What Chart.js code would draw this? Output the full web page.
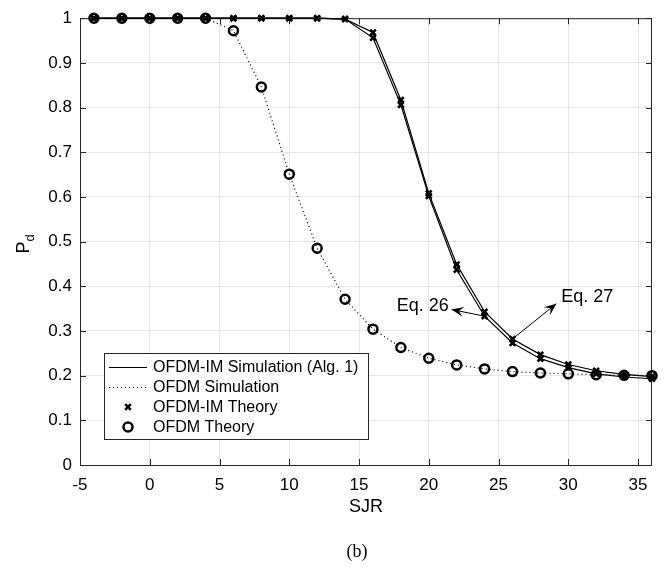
<!DOCTYPE html>
<html>
<head>
<meta charset="utf-8">
<script src="https://cdn.jsdelivr.net/npm/chart.js@4/dist/chart.umd.min.js"></script>
<style>
  html, body { margin: 0; padding: 0; background: #fff; }
  canvas { display: block; }
</style>
</head>
<body>
<canvas id="c" width="666" height="570"></canvas>
<script>
// SJR values (x axis)
var sjr = [-4, -2, 0, 2, 4, 6, 8, 10, 12, 14, 16, 18, 20, 22, 24, 26, 28, 30, 32, 34, 36];

// OFDM (simulation and theory overlap)
var ofdmPd = [1, 1, 1, 1, 1, 0.972, 0.846, 0.651, 0.485, 0.371, 0.304, 0.263, 0.239, 0.224, 0.215, 0.209, 0.206, 0.204, 0.202, 0.201, 0.200];

// OFDM-IM, two closely spaced curves (Eq. 27 upper, Eq. 26 lower)
var imEq27 = [1, 1, 1, 1, 1, 1, 1, 1, 1, 0.998, 0.968, 0.817, 0.608, 0.449, 0.343, 0.282, 0.247, 0.225, 0.211, 0.203, 0.198];
var imEq26 = [1, 1, 1, 1, 1, 1, 1, 1, 1, 0.998, 0.956, 0.806, 0.602, 0.437, 0.333, 0.273, 0.238, 0.218, 0.204, 0.197, 0.193];

var xTicks = [-5, 0, 5, 10, 15, 20, 25, 30, 35];
var xTickLabels = ['-5', '0', '5', '10', '15', '20', '25', '30', '35'];
var yTicks = [0, 0.1, 0.2, 0.3, 0.4, 0.5, 0.6, 0.7, 0.8, 0.9, 1];
var yTickLabels = ['0', '0.1', '0.2', '0.3', '0.4', '0.5', '0.6', '0.7', '0.8', '0.9', '1'];

var legendLabels = ['OFDM-IM Simulation (Alg. 1)', 'OFDM Simulation', 'OFDM-IM Theory', 'OFDM Theory'];
var eqLabels = ['Eq. 26', 'Eq. 27'];

function pts(ys) {
  return sjr.map(function (x, i) { return { x: x, y: ys[i] }; });
}

var FONT = '"Liberation Sans", Arial, sans-serif';
var INK = '#000';
var AXIS = '#262626';

var datasets = [
  { label: legendLabels[0], data: pts(imEq27), borderColor: INK, borderWidth: 1.2, pointRadius: 0, showLine: true, clip: false },
  { label: legendLabels[1], data: pts(ofdmPd), borderColor: INK, borderWidth: 1.2, borderDash: [1, 3], pointRadius: 0, showLine: true, clip: false },
  { label: legendLabels[2], data: pts(imEq27), showLine: false, pointStyle: 'crossRot', pointRadius: 4, borderWidth: 2.6, borderColor: INK, clip: false },
  { label: legendLabels[3], data: pts(ofdmPd), showLine: false, pointStyle: 'circle', pointRadius: 4.5, borderWidth: 2.5, borderColor: INK, backgroundColor: 'rgba(0,0,0,0)', clip: false },
  // second OFDM-IM curve (not in legend)
  { label: '', data: pts(imEq26), borderColor: INK, borderWidth: 1.2, showLine: true, pointStyle: 'crossRot', pointRadius: 4, pointBorderWidth: 2.6, clip: false }
];

var decor = {
  id: 'decor',
  beforeDatasetsDraw: function (chart) {
    var ctx = chart.ctx, a = chart.chartArea;
    var xs = chart.scales.x, ys = chart.scales.y;
    ctx.save();
    ctx.strokeStyle = AXIS;
    ctx.lineWidth = 1;
    ctx.strokeRect(a.left + 0.5, a.top + 0.5, a.right - a.left - 1, a.bottom - a.top);
    // inward ticks on all sides
    xTicks.forEach(function (v) {
      var px = Math.round(xs.getPixelForValue(v)) + 0.5;
      ctx.beginPath();
      ctx.moveTo(px, a.bottom); ctx.lineTo(px, a.bottom - 6);
      ctx.moveTo(px, a.top); ctx.lineTo(px, a.top + 6);
      ctx.stroke();
    });
    yTicks.forEach(function (v) {
      var py = Math.round(ys.getPixelForValue(v)) + 0.5;
      ctx.beginPath();
      ctx.moveTo(a.left, py); ctx.lineTo(a.left + 6, py);
      ctx.moveTo(a.right, py); ctx.lineTo(a.right - 6, py);
      ctx.stroke();
    });
    ctx.restore();
  },
  afterDatasetsDraw: function (chart) {
    var ctx = chart.ctx, a = chart.chartArea;
    var xs = chart.scales.x, ys = chart.scales.y;
    ctx.save();

    // arrows with equation labels
    function arrow(x0, y0, x1, y1) {
      var p0 = [xs.getPixelForValue(x0), ys.getPixelForValue(y0)];
      var p1 = [xs.getPixelForValue(x1), ys.getPixelForValue(y1)];
      var ang = Math.atan2(p1[1] - p0[1], p1[0] - p0[0]);
      ctx.strokeStyle = INK; ctx.fillStyle = INK; ctx.lineWidth = 1;
      ctx.beginPath(); ctx.moveTo(p0[0], p0[1]); ctx.lineTo(p1[0], p1[1]); ctx.stroke();
      var L = 12, W = 5;
      ctx.beginPath();
      ctx.moveTo(p1[0], p1[1]);
      ctx.lineTo(p1[0] - L * Math.cos(ang) + W * Math.sin(ang), p1[1] - L * Math.sin(ang) - W * Math.cos(ang));
      ctx.lineTo(p1[0] - 0.6 * L * Math.cos(ang), p1[1] - 0.6 * L * Math.sin(ang));
      ctx.lineTo(p1[0] - L * Math.cos(ang) - W * Math.sin(ang), p1[1] - L * Math.sin(ang) + W * Math.cos(ang));
      ctx.closePath(); ctx.fill();
    }
    arrow(24, 0.333, 21.64, 0.348);
    arrow(26, 0.282, 29.14, 0.361);
    ctx.font = '18px ' + FONT;
    ctx.fillStyle = INK;
    ctx.textBaseline = 'middle';
    ctx.textAlign = 'right';
    ctx.fillText(eqLabels[0], xs.getPixelForValue(21.43), ys.getPixelForValue(0.355));
    ctx.textAlign = 'left';
    ctx.fillText(eqLabels[1], xs.getPixelForValue(29.5), ys.getPixelForValue(0.375));

    // legend box
    var bx = 104, by = 353, bw = 264, bh = 86;
    ctx.fillStyle = '#fff';
    ctx.fillRect(bx, by, bw, bh);
    ctx.strokeStyle = AXIS; ctx.lineWidth = 1;
    ctx.strokeRect(bx + 0.5, by + 0.5, bw, bh);
    ctx.font = '16px ' + FONT;
    ctx.textAlign = 'left'; ctx.textBaseline = 'middle';
    for (var i = 0; i < 4; i++) {
      var ry = by + 14 + i * 20;
      var ds = chart.data.datasets[i];
      ctx.strokeStyle = INK;
      if (i < 2) {
        ctx.lineWidth = 1.2;
        ctx.setLineDash(ds.borderDash || []);
        ctx.beginPath(); ctx.moveTo(bx + 5, ry + 0.5); ctx.lineTo(bx + 43, ry + 0.5); ctx.stroke();
        ctx.setLineDash([]);
      } else {
        ctx.lineWidth = ds.borderWidth;
        ctx.fillStyle = 'rgba(0,0,0,0)';
        Chart.helpers.drawPoint(ctx, { pointStyle: ds.pointStyle, radius: ds.pointRadius, rotation: 0, borderWidth: ds.borderWidth }, bx + 24, ry);
      }
      ctx.fillStyle = INK;
      ctx.fillText(ds.label, bx + 49, ry + 1);
    }

    // axis titles and caption
    ctx.fillStyle = INK;
    ctx.font = '18px ' + FONT;
    ctx.textAlign = 'center'; ctx.textBaseline = 'middle';
    ctx.fillText('SJR', (a.left + a.right) / 2, a.bottom + 42);
    ctx.save();
    ctx.translate(24, (a.top + a.bottom) / 2 + 2);
    ctx.rotate(-Math.PI / 2);
    ctx.textAlign = 'left';
    ctx.fillText('P', -10, 0);
    ctx.font = '13px ' + FONT;
    ctx.fillText('d', 2, 6);
    ctx.restore();
    ctx.font = '18px "Liberation Serif", "DejaVu Serif", serif';
    ctx.fillText('(b)', (a.left + a.right) / 2 - 9, a.bottom + 87);
    ctx.restore();
  }
};

new Chart(document.getElementById('c'), {
  type: 'scatter',
  data: { datasets: datasets },
  options: {
    responsive: false,
    animation: false,
    devicePixelRatio: 1,
    layout: { padding: { top: 14, right: 14, left: 0, bottom: 0 } },
    plugins: { legend: { display: false }, tooltip: { enabled: false } },
    scales: {
      x: {
        type: 'linear', min: -5, max: 36,
        afterBuildTicks: function (s) { s.ticks = xTicks.map(function (v) { return { value: v }; }); },
        afterFit: function (s) { s.height = 105; },
        ticks: {
          padding: 10, color: INK, font: { family: FONT, size: 17 },
          callback: function (v) { return xTickLabels[xTicks.indexOf(v)]; }
        },
        grid: { color: '#e6e6e6', drawTicks: false },
        border: { display: false }
      },
      y: {
        type: 'linear', min: 0, max: 1,
        afterBuildTicks: function (s) { s.ticks = yTicks.map(function (v) { return { value: v }; }); },
        afterFit: function (s) { s.width = 80; },
        ticks: {
          padding: 8, color: INK, font: { family: FONT, size: 17 },
          callback: function (v) {
            var k = yTicks.findIndex(function (t) { return Math.abs(t - v) < 1e-9; });
            return yTickLabels[k];
          }
        },
        grid: { color: '#e6e6e6', drawTicks: false },
        border: { display: false }
      }
    }
  },
  plugins: [decor]
});
</script>
</body>
</html>
